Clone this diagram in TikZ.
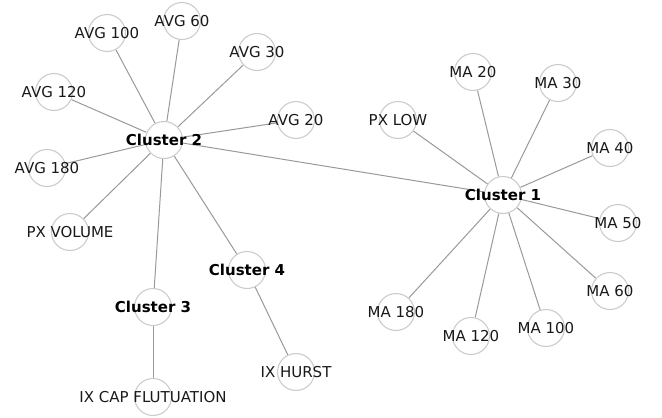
\documentclass[tikz,border=0pt]{standalone}
\usepackage{fontspec}
\setmainfont{DejaVu Sans}
\pgfdeclarelayer{background}
\pgfsetlayers{background,main}
\definecolor{ringgray}{HTML}{CCCCCC}
\definecolor{edgegray}{HTML}{999999}
\begin{document}
\begin{tikzpicture}[x=1pt,y=-1pt,
  vert/.style={circle,draw=ringgray,fill=white,line width=1.1pt,minimum size=37pt,inner sep=0pt},
  txt/.style={font=\fontsize{15}{18}\selectfont,text=black!90},
  btxt/.style={font=\fontsize{15}{18}\selectfont\bfseries,text=black},
  edge/.style={draw=edgegray,line width=1pt}]
\useasboundingbox (0,0) rectangle (662,418);
% cluster hubs
\node[vert,label={[btxt]center:Cluster 2}] (c2) at (164,140) {};
\node[vert,label={[btxt]center:Cluster 1}] (c1) at (503,195) {};
\node[vert,label={[btxt]center:Cluster 3}] (c3) at (153,307) {};
\node[vert,label={[btxt]center:Cluster 4}] (c4) at (247,270) {};
% cluster 2 members
\node[vert,label={[txt]center:AVG 100}] (a100) at (107,33) {};
\node[vert,label={[txt]center:AVG 60}] (a60) at (182,21) {};
\node[vert,label={[txt]center:AVG 30}] (a30) at (257,52) {};
\node[vert,label={[txt]center:AVG 120}] (a120) at (54,92) {};
\node[vert,label={[txt]center:AVG 20}] (a20) at (296,120) {};
\node[vert,label={[txt]center:AVG 180}] (a180) at (47,168) {};
\node[vert,label={[txt]center:PX VOLUME}] (pxv) at (70,232) {};
% cluster 3 and 4 members
\node[vert,label={[txt]center:IX CAP FLUTUATION}] (ixcap) at (153,397) {};
\node[vert,label={[txt]center:IX HURST}] (ixh) at (296,372) {};
% cluster 1 members
\node[vert,label={[txt]center:PX LOW}] (pxl) at (398,120) {};
\node[vert,label={[txt]center:MA 20}] (m20) at (473,72) {};
\node[vert,label={[txt]center:MA 30}] (m30) at (558,83) {};
\node[vert,label={[txt]center:MA 40}] (m40) at (610,148) {};
\node[vert,label={[txt]center:MA 50}] (m50) at (618,223) {};
\node[vert,label={[txt]center:MA 60}] (m60) at (610,291) {};
\node[vert,label={[txt]center:MA 100}] (m100) at (546,328) {};
\node[vert,label={[txt]center:MA 120}] (m120) at (471,336) {};
\node[vert,label={[txt]center:MA 180}] (m180) at (396,312) {};
% connectors
\begin{pgfonlayer}{background}
\foreach \t in {a100,a60,a30,a120,a20,a180,pxv,c3,c4,c1}
  \path[edge] (c2) -- (\t);
\path[edge] (c3) -- (ixcap);
\path[edge] (c4) -- (ixh);
\foreach \t in {pxl,m20,m30,m40,m50,m60,m100,m120,m180}
  \path[edge] (c1) -- (\t);
\end{pgfonlayer}
\end{tikzpicture}
\end{document}
